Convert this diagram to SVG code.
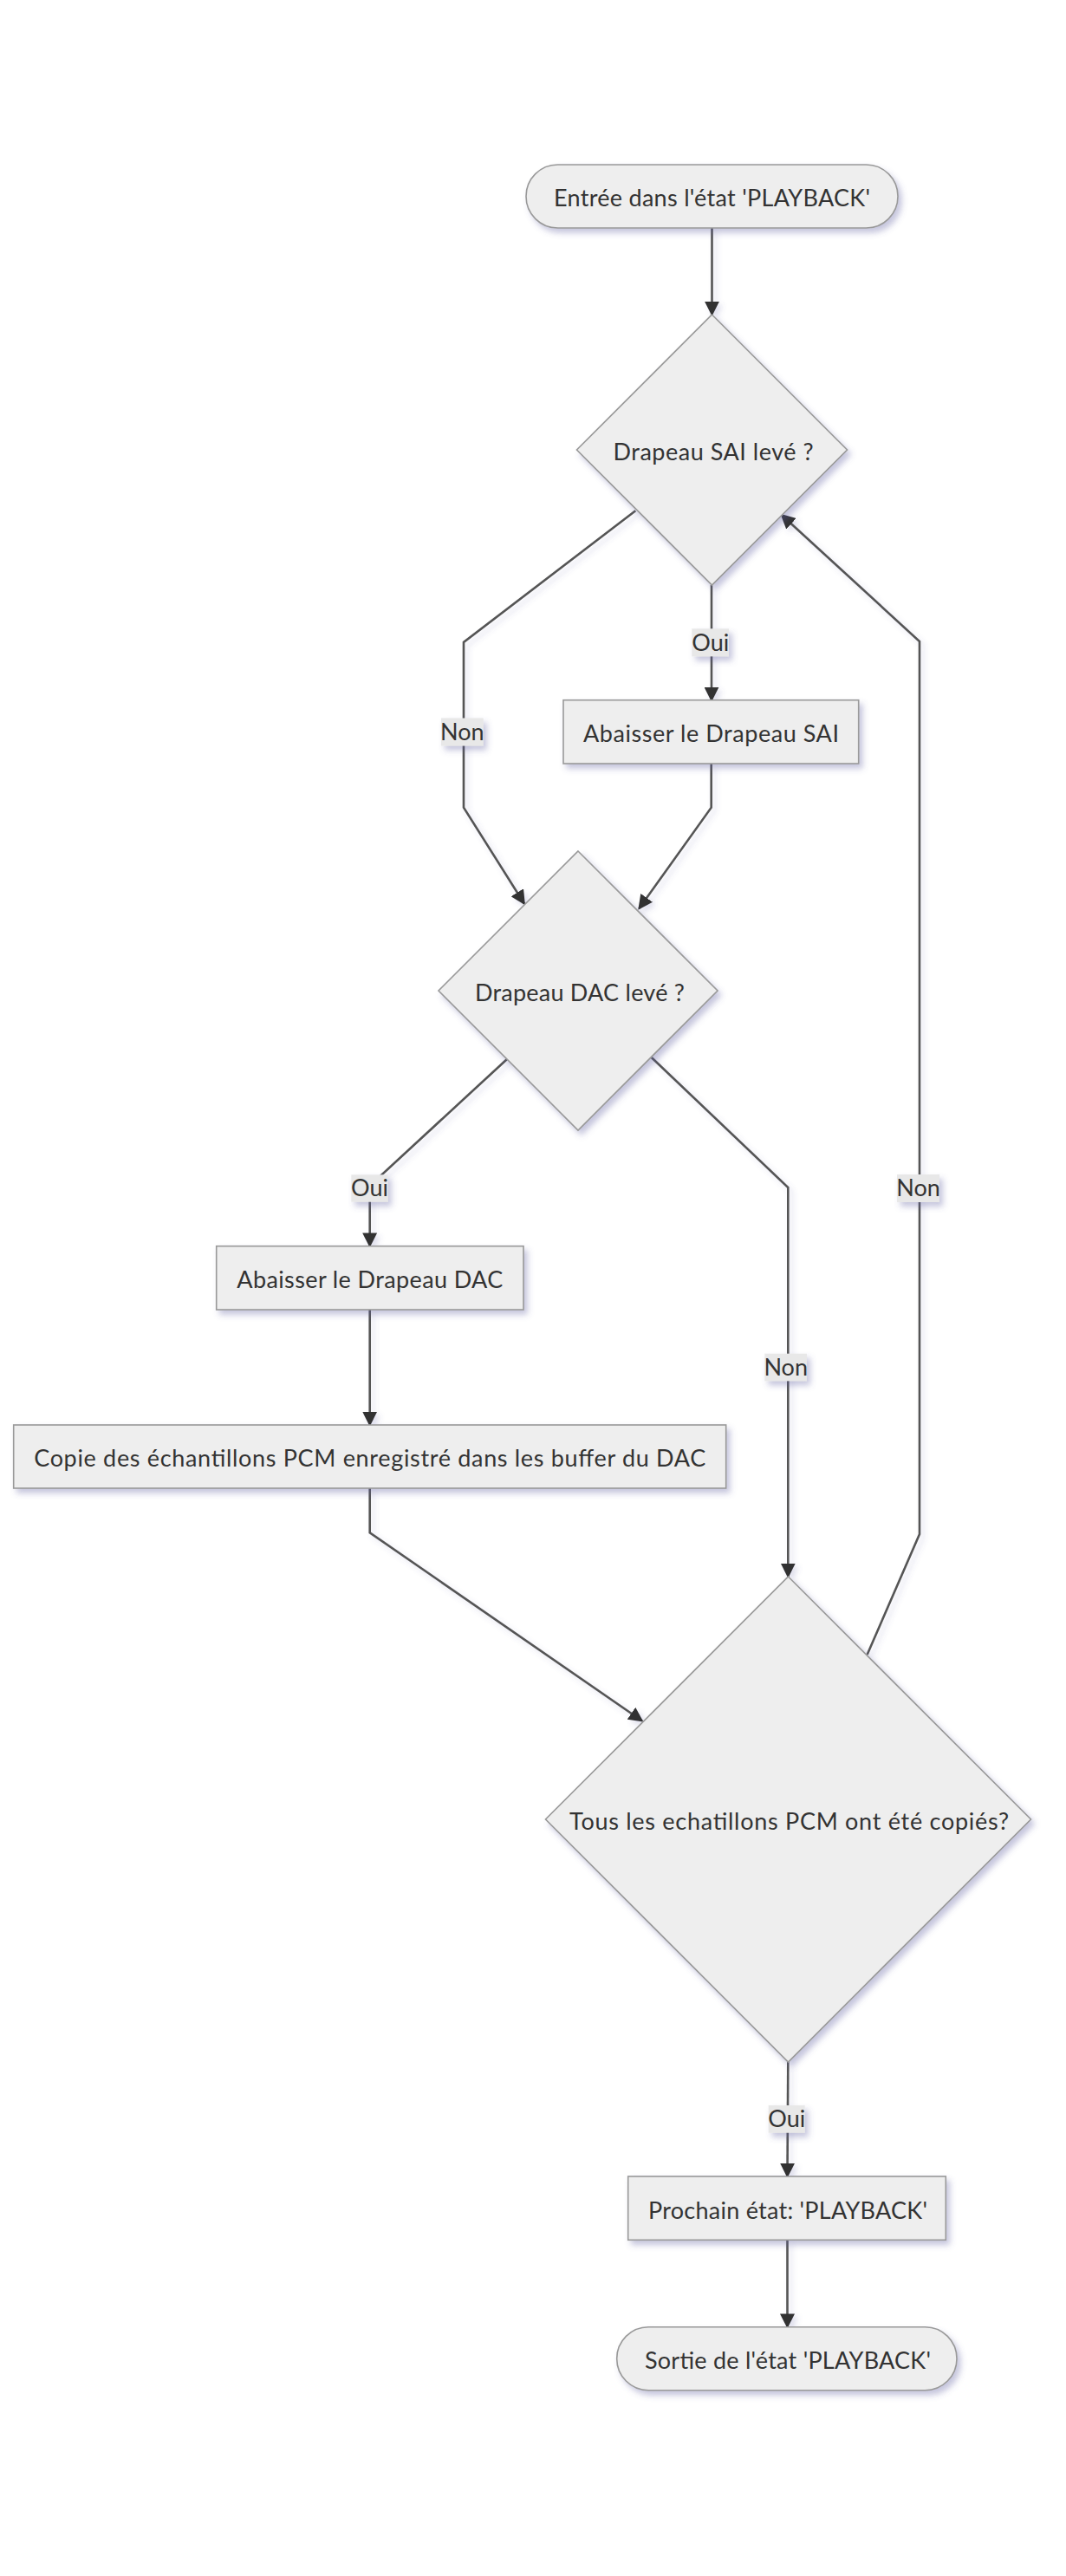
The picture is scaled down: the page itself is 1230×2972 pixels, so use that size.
<svg xmlns="http://www.w3.org/2000/svg" width="1230" height="2972" viewBox="0 0 1230 2972">
  <defs>
    <filter id="sh" filterUnits="userSpaceOnUse" x="0" y="0" width="1230" height="2972">
      <feDropShadow dx="4" dy="5" stdDeviation="3.5" flood-color="#5a5a9e" flood-opacity="0.35"/>
    </filter>
    <filter id="esh" filterUnits="userSpaceOnUse" x="0" y="0" width="1230" height="2972">
      <feDropShadow dx="4" dy="4" stdDeviation="3" flood-color="#5a5a9e" flood-opacity="0.2"/>
    </filter>
    <marker id="arr" viewBox="0 0 10 10" refX="9" refY="5" markerUnits="userSpaceOnUse" markerWidth="17" markerHeight="17" orient="auto">
      <path d="M0,0 L10,5 L0,10 z" fill="#333333"/>
    </marker>
  </defs>
  <style>
    .node { fill: #eeeeee; stroke: #999999; stroke-width: 1.6; filter: url(#sh); }
    .edge { fill: none; stroke: #555555; stroke-width: 2.6; marker-end: url(#arr); filter: url(#esh); }
    .lbl { fill: #e8e8e8; filter: url(#sh); }
    text { font-family: "Trebuchet MS", Lato, "Open Sans", sans-serif; font-size: 27px; fill: #333333; text-anchor: middle; }
  </style>
  <rect width="1230" height="2972" fill="#ffffff"/>

  <g id="edges">
    <path class="edge" d="M821.5,263 L821.5,363"/>
    <path class="edge" d="M821,675 L821,808"/>
    <path class="edge" d="M733.3,589.3 L535,741 L535,931.7 L605,1042.7"/>
    <path class="edge" d="M820.7,881 L820.7,931.7 L737.3,1048.3"/>
    <path class="edge" d="M585,1222 L426.7,1368 L426.7,1437.7"/>
    <path class="edge" d="M751.7,1220 L909.3,1370 L909.3,1819"/>
    <path class="edge" d="M426.7,1511 L426.7,1644"/>
    <path class="edge" d="M426.7,1717 L426.7,1768.3 L741,1985.5"/>
    <path class="edge" d="M1000.6,1909 L1061,1770 L1061,740 L901.7,594"/>
    <path class="edge" d="M909.3,2379 L908.5,2511"/>
    <path class="edge" d="M908.5,2584.3 L908.5,2684.7"/>
    <g id="edge-labels">
      <rect class="lbl" x="798.3" y="725.3" width="42.7" height="32"/>
      <text x="819.7" y="750.5">Oui</text>
      <rect class="lbl" x="509" y="828.5" width="48.7" height="32"/>
      <text x="533.3" y="853.7">Non</text>
      <rect class="lbl" x="405.3" y="1355.3" width="42.4" height="31.4"/>
      <text x="426.5" y="1380.3">Oui</text>
      <rect class="lbl" x="882.3" y="1561.7" width="48.7" height="31.6"/>
      <text x="906.7" y="1586.7">Non</text>
      <rect class="lbl" x="1035" y="1355" width="49" height="32"/>
      <text x="1059.5" y="1380.2">Non</text>
      <rect class="lbl" x="886.7" y="2429" width="42" height="31.7"/>
      <text x="907.7" y="2454.2">Oui</text>
    </g>
  </g>

  <g id="start">
    <rect class="node" x="607" y="190" width="429" height="73" rx="36.5" ry="36.5"/>
    <text x="821.5" y="238" textLength="365">Entrée dans l'état 'PLAYBACK'</text>
  </g>
  <g id="sai-check">
    <polygon class="node" points="821.5,363 977.5,519 821.5,675 665.5,519"/>
    <text x="823" y="531" textLength="231">Drapeau SAI levé ?</text>
  </g>
  <g id="sai-lower">
    <rect class="node" x="650" y="807.7" width="340.7" height="73.3"/>
    <text x="820.5" y="856.3" textLength="295">Abaisser le Drapeau SAI</text>
  </g>
  <g id="dac-check">
    <polygon class="node" points="667,982 828,1143 667,1304 506,1143"/>
    <text x="668.9" y="1154.5" textLength="242">Drapeau DAC levé ?</text>
  </g>
  <g id="dac-lower">
    <rect class="node" x="249.7" y="1437.7" width="354.3" height="73.3"/>
    <text x="426.8" y="1486" textLength="307">Abaisser le Drapeau DAC</text>
  </g>
  <g id="copy">
    <rect class="node" x="15.7" y="1644" width="822" height="73"/>
    <text x="426.7" y="1692" textLength="775">Copie des échantillons PCM enregistré dans les buffer du DAC</text>
  </g>
  <g id="all-copied">
    <polygon class="node" points="909.5,1819 1189.5,2099 909.5,2379 629.5,2099"/>
    <text x="910.6" y="2110.7" textLength="507">Tous les echatillons PCM ont été copiés?</text>
  </g>
  <g id="next-state">
    <rect class="node" x="724.7" y="2511" width="366.6" height="73.3"/>
    <text x="909" y="2559.5" textLength="322">Prochain état: 'PLAYBACK'</text>
  </g>
  <g id="end">
    <rect class="node" x="711.7" y="2684.7" width="392.3" height="73" rx="36.5" ry="36.5"/>
    <text x="909" y="2733" textLength="330">Sortie de l'état 'PLAYBACK'</text>
  </g>
</svg>
